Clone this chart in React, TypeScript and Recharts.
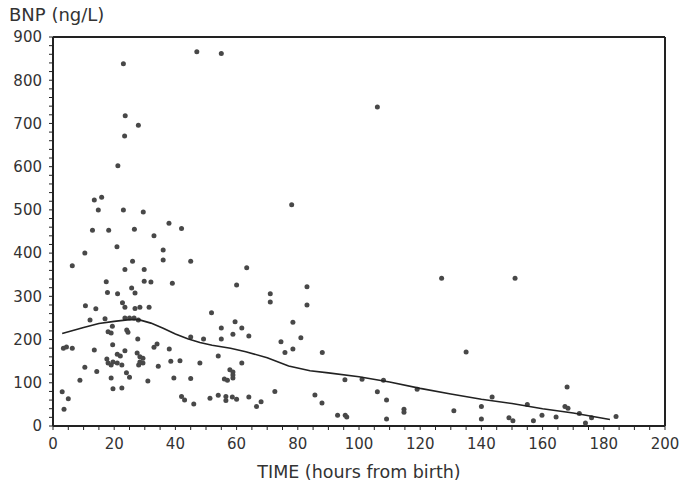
import { ScatterChart, Scatter, XAxis, YAxis } from 'recharts';

const X_TICKS = Array.from({ length: 41 }, (_, i) => i * 5);
const Y_TICKS = Array.from({ length: 46 }, (_, i) => i * 20);

// (hours, BNP)
const hours = [
  47, 55, 23, 23.6, 27.9, 23.4, 21.2, 13.5, 15.9, 14.8, 23, 29.5, 78, 106,
  12.9, 18.2, 26.6, 37.9, 42, 33,
  10.4, 20.9, 6.3, 36, 36, 26, 23.5, 29.8, 45, 39, 17.4, 29.8, 32, 25.7, 26.8, 17.8, 21.1, 10.6, 14, 22.7, 23.5, 26.8, 28.4, 31.4,
  12.1, 17, 23.5, 25, 26.5, 27.9,
  18, 19, 19.4, 24.1, 24.5, 27.7,
  3.4, 4.4, 6.3, 13.5, 19.5, 23.5, 21, 22,
  17.6, 18, 19.6, 19, 21, 22.5,
  27.5, 28.4, 29.4, 28.4, 28, 29.4,
  34, 33, 38, 38.5, 41.5, 34.4,
  10.4, 14.3, 24, 25, 19, 8.8, 31, 39.5, 45,
  19.6, 22.5, 3, 5, 3.6,
  42, 43, 46, 51.3, 54, 56.5, 58.6, 60, 56.5, 64, 68, 66.5, 72.5, 85.6, 87.9, 93,
  51.8, 55, 55, 59.5, 61.7, 58.8, 64, 45, 49.2, 60, 63.3, 54, 61.7, 48,
  57.8, 58.8, 58.8, 58.8, 56, 57,
  71, 71, 78.4, 81, 74.5, 78.4, 75.8, 83, 83, 88,
  127, 151, 135, 95.4, 101, 108, 106, 109, 114.7, 114.7, 109, 95.5, 96, 119, 131, 140, 140, 143.5,
  149, 150.3, 157, 159.8, 164.4, 168, 167.3, 168.3, 174, 184, 172, 155, 176,
];
const bnp = [
  866, 862, 838, 718, 696, 671, 602, 523, 529, 500, 500, 495, 512, 738,
  453, 453, 455, 469, 457, 440,
  400, 415, 371, 407, 384, 381, 362, 362, 381, 330, 334, 335, 333, 319, 308, 309, 306, 278, 271, 285, 275, 272, 275, 275,
  245, 248, 250, 250, 250, 245,
  218, 215, 231, 222, 217, 201,
  180, 183, 180, 176, 188, 174, 166, 162,
  155, 146, 148, 141, 146, 141,
  169, 160, 157, 148, 141, 146,
  190, 182, 178, 150, 151, 138,
  136, 126, 123, 113, 111, 106, 104, 111, 110,
  86, 88, 79, 63, 39,
  68, 60, 51, 64, 71, 68, 67, 62, 59, 67, 56, 45, 80, 72, 53, 25,
  262, 227, 201, 241, 227, 212, 208, 206, 201, 326, 366, 162, 146, 146,
  130, 125, 118, 111, 109, 106,
  306, 287, 240, 204, 195, 178, 170, 322, 280, 170,
  342, 342, 171, 107, 108, 106, 79, 60, 39, 32, 16, 25, 21, 85, 35, 45, 16, 67,
  19, 12, 12, 25, 21, 90, 45, 41, 7, 22, 29, 50, 19,
];

// smoothed trend
const trendHours = [3, 10, 15, 20, 25, 28, 32, 36, 40, 44, 48, 52, 58, 63, 70, 77, 84, 90, 100, 110, 120, 130, 140, 150, 160, 170, 182];
const trendBnp = [214, 228, 237, 242, 246, 246, 238, 226, 213, 202, 193, 187, 180, 172, 158, 139, 128, 123, 114, 102, 87, 74, 62, 52, 40, 30, 15];

const points = hours.map((x, i) => ({ x, y: bnp[i] }));
const trend = trendHours.map((x, i) => ({ x, y: trendBnp[i] }));

const FONT = 'DejaVu Sans';
const INK = '#333';

const XTick = ({ x, y, payload }: any) =>
  payload.value % 20 === 0 ? (
    <text x={x} y={y} dy="0.71em" textAnchor="middle" fontFamily={FONT} fontSize={15} fill={INK}>
      {payload.value}
    </text>
  ) : (
    <g />
  );

const YTick = ({ x, y, payload }: any) =>
  payload.value % 100 === 0 ? (
    <text x={x} y={y} dy="0.355em" textAnchor="end" fontFamily={FONT} fontSize={15} fill={INK}>
      {payload.value}
    </text>
  ) : (
    <g />
  );

const Dot = ({ cx, cy }: any) => <circle cx={cx} cy={cy} r={2.5} fill="#484848" />;

const axisLine = { stroke: '#222', strokeWidth: 2 };
const tickLine = { stroke: '#222', strokeWidth: 1 };

export default function App() {
  return (
    <div style={{ position: 'absolute', left: 0, top: 0, width: 679, height: 481, background: '#fff' }}>
      <div
        style={{
          position: 'absolute',
          left: 9,
          top: 4,
          fontFamily: FONT,
          fontSize: 18,
          color: INK,
          whiteSpace: 'nowrap',
        }}
      >
        BNP (ng/L)
      </div>
      <ScatterChart width={679} height={481} margin={{ top: 27, right: 4, bottom: 5, left: 8 }}>
        <XAxis
          dataKey="x"
          type="number"
          domain={[0, 200]}
          ticks={X_TICKS}
          interval={0}
          height={50}
          tick={XTick}
          tickSize={4}
          tickMargin={8}
          axisLine={axisLine}
          tickLine={tickLine}
          label={{
            value: 'TIME (hours from birth)',
            position: 'insideBottom',
            offset: -2,
            fontFamily: FONT,
            fontSize: 17.5,
            fill: INK,
          }}
        />
        <XAxis
          xAxisId="top"
          orientation="top"
          type="number"
          domain={[0, 200]}
          ticks={X_TICKS}
          interval={0}
          height={10}
          tick={() => <g />}
          tickSize={3}
          axisLine={axisLine}
          tickLine={tickLine}
        />
        <YAxis
          dataKey="y"
          type="number"
          domain={[0, 900]}
          ticks={Y_TICKS}
          interval={0}
          width={45}
          tick={YTick}
          tickSize={4}
          tickMargin={7}
          axisLine={axisLine}
          tickLine={tickLine}
        />
        <YAxis
          yAxisId="right"
          orientation="right"
          type="number"
          domain={[0, 900]}
          ticks={Y_TICKS}
          interval={0}
          width={10}
          tick={() => <g />}
          tickSize={3}
          axisLine={axisLine}
          tickLine={tickLine}
        />
        <Scatter data={points} shape={Dot} isAnimationActive={false} />
        <Scatter
          data={trend}
          line={{ stroke: '#222', strokeWidth: 1.6 }}
          lineType="joint"
          shape={() => <g />}
          isAnimationActive={false}
        />
      </ScatterChart>
    </div>
  );
}
